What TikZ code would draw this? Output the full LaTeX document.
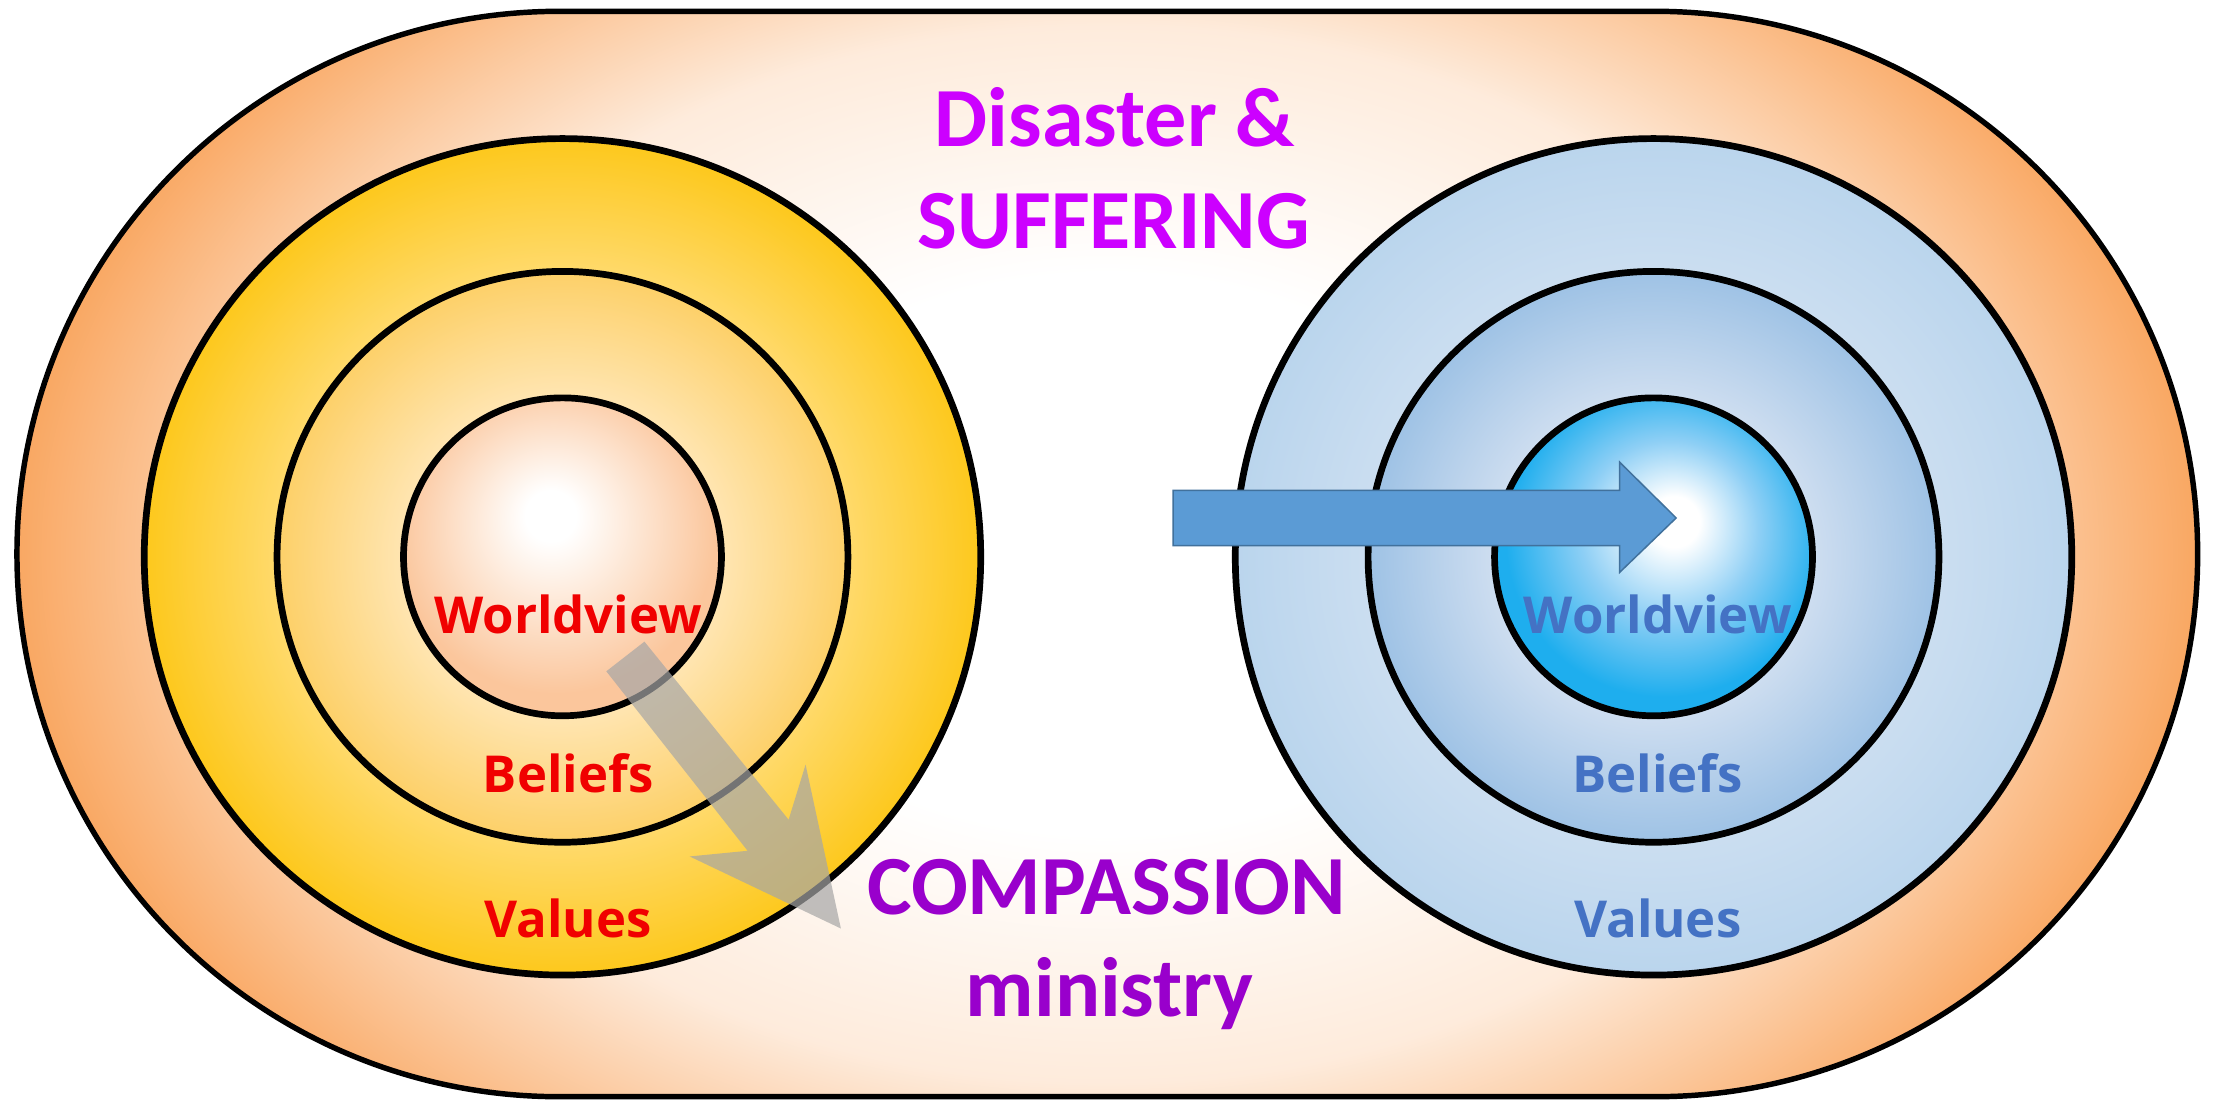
\documentclass[tikz,border=0pt]{standalone}
\usepackage{fontspec}
\setmainfont{Carlito}
\newfontfamily\ringfont{Open Sans}
\definecolor{stadorange}{HTML}{F9A55E}
\definecolor{titlemag}{HTML}{CC00FF}
\definecolor{titlepur}{HTML}{9900CC}
\definecolor{redtxt}{HTML}{F00000}
\definecolor{bluetxt}{HTML}{4472C4}
\definecolor{arrowblue}{HTML}{5B9BD5}
\definecolor{arrowblueline}{HTML}{41719C}
\definecolor{arrowgray}{HTML}{A6A6A6}
\pgfdeclareradialshading{stadshade}{\pgfpoint{0bp}{0bp}}{%
  color(0bp)=(white); color(9bp)=(white); color(17bp)=(stadorange!22!white);
  color(21bp)=(stadorange!60!white); color(25bp)=(stadorange); color(50bp)=(stadorange)}
\pgfdeclareradialshading{louter}{\pgfpoint{0bp}{0bp}}{%
  color(0bp)=(white); color(16bp)=(rgb,255:red,255;green,220;blue,118);
  color(25bp)=(rgb,255:red,253;green,200;blue,28); color(50bp)=(rgb,255:red,253;green,200;blue,28)}
\pgfdeclareradialshading{lmid}{\pgfpoint{0bp}{0bp}}{%
  color(0bp)=(white); color(13bp)=(rgb,255:red,255;green,231;blue,184);
  color(25bp)=(rgb,255:red,253;green,208;blue,104); color(50bp)=(rgb,255:red,253;green,208;blue,104)}
\pgfdeclareradialshading{linner}{\pgfpoint{-2bp}{7bp}}{%
  color(0bp)=(white); color(4bp)=(white);
  color(25bp)=(rgb,255:red,251;green,198;blue,156); color(50bp)=(rgb,255:red,251;green,198;blue,156)}
\pgfdeclareradialshading{router}{\pgfpoint{0bp}{0bp}}{%
  color(0bp)=(white); color(16bp)=(rgb,255:red,205;green,223;blue,241);
  color(25bp)=(rgb,255:red,186;green,213;blue,237); color(50bp)=(rgb,255:red,186;green,213;blue,237)}
\pgfdeclareradialshading{rmid}{\pgfpoint{0bp}{0bp}}{%
  color(0bp)=(white); color(13bp)=(rgb,255:red,210;green,224;blue,241);
  color(25bp)=(rgb,255:red,158;green,194;blue,229); color(50bp)=(rgb,255:red,158;green,194;blue,229)}
\pgfdeclareradialshading{rinner}{\pgfpoint{3.5bp}{6bp}}{%
  color(0bp)=(white); color(4bp)=(white); color(14bp)=(rgb,255:red,142;green,207;blue,245);
  color(25bp)=(rgb,255:red,30;green,174;blue,238); color(50bp)=(rgb,255:red,30;green,174;blue,238)}
\tikzset{
  ring/.style={circle, draw=black, line width=2.7pt, inner sep=0pt, minimum size=#1},
  ringtxt/.style={font=\ringfont\bfseries\fontsize{20.5}{24}\selectfont, anchor=base, inner sep=0pt},
  titletxt/.style={font=\bfseries\fontsize{33.9}{40}\selectfont, anchor=base, inner sep=0pt},
}
\begin{document}
\begin{tikzpicture}[x=0.02cm, y=-0.02cm]
\useasboundingbox (0,0) rectangle (1568,781);
% stadium
\begin{scope}
  \clip (396,8) -- (1171,8) arc[start angle=-90, end angle=90, radius=384]
        -- (396,776) arc[start angle=90, end angle=270, radius=384] -- cycle;
  \shade[shading=stadshade] (3,-158) rectangle (1563,942);
\end{scope}
\draw[line width=2.2pt] (396,8) -- (1171,8) arc[start angle=-90, end angle=90, radius=384]
        -- (396,776) arc[start angle=90, end angle=270, radius=384] -- cycle;
% left circles
\node[ring=11.84cm, shading=louter] (LO) at (398,394) {};
\node[ring=8.08cm, shading=lmid] (LM) at (398,394) {};
\node[ring=4.5cm, shading=linner] (LI) at (398,394) {};
% right circles
\node[ring=11.84cm, shading=router] (RO) at (1170,394) {};
\node[ring=8.08cm, shading=rmid] (RM) at (1170,394) {};
\node[ring=4.5cm, shading=rinner] (RI) at (1170,394) {};
% ring labels
\node[ringtxt, text=redtxt] (LW) at (402,448) {Worldview};
\node[ringtxt, text=redtxt] (LB) at (402,561) {Beliefs};
\node[ringtxt, text=redtxt] (LV) at (402,663) {Values};
\node[ringtxt, text=bluetxt] (RW) at (1173,448) {Worldview};
\node[ringtxt, text=bluetxt] (RB) at (1173,561) {Beliefs};
\node[ringtxt, text=bluetxt] (RV) at (1173,663) {Values};
% titles
\node[titletxt, text=titlemag] (T1) at (789,104) {Disaster \&};
\node[titletxt, text=titlemag] (T2) at (788,175.5) {SUFFERING};
\node[titletxt, text=titlepur] (T3) at (783,647) {COMPASSION};
\node[titletxt, text=titlepur] (T4) at (785,719) {ministry};
% arrows
\fill[fill=arrowgray, fill opacity=0.7]
  (429,475) -- (456,454) -- (558,580) -- (570,541) -- (595,657) -- (488,606) -- (529,602) -- cycle;
\filldraw[fill=arrowblue, draw=arrowblueline, line width=0.6pt]
  (830,347) -- (1146,347) -- (1146,327) -- (1186,366.5) -- (1146,405) -- (1146,386) -- (830,386) -- cycle;
\end{tikzpicture}
\end{document}
